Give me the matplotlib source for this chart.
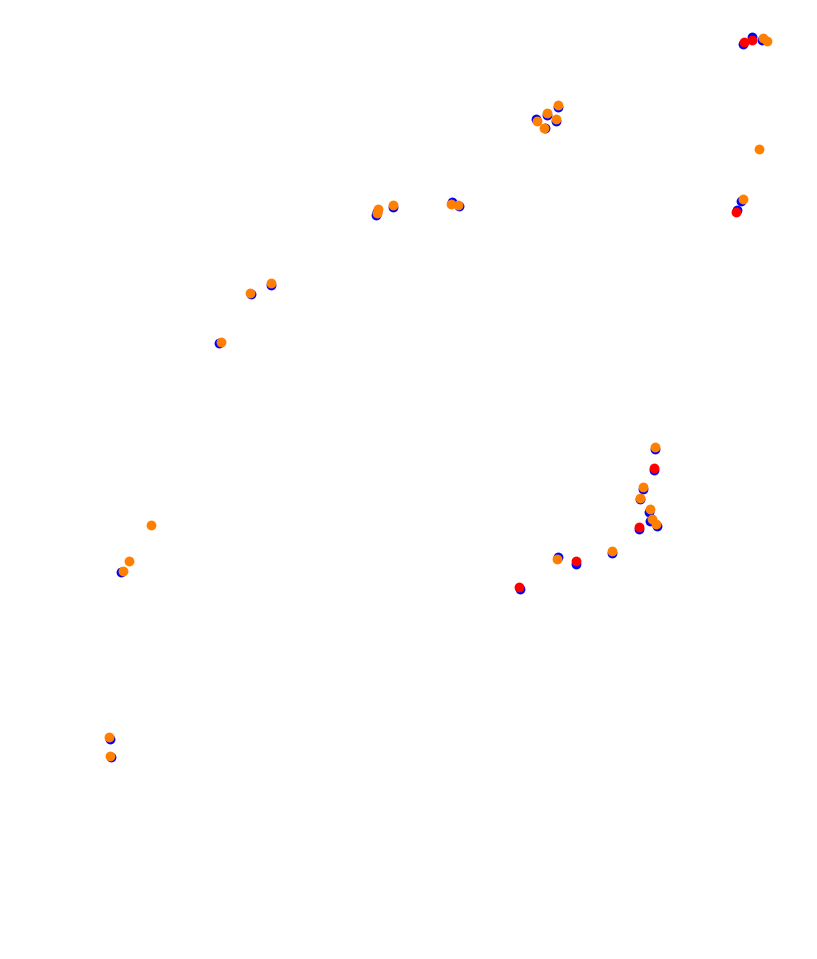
import matplotlib
matplotlib.use("Agg")
import matplotlib.pyplot as plt

# position samples for three laps (track map style, no axes)
blue_x = [743, 752, 762, 558, 547, 536, 556, 545, 377, 376, 393, 452, 459,
          741, 737, 655, 654, 643, 640, 649, 650, 657, 639, 520, 558, 576,
          612, 121, 110, 111, 271, 251, 219]
blue_y = [44, 37, 40, 107, 115, 119, 121, 128, 212, 215, 207, 202, 206,
          201, 210, 449, 470, 489, 499, 512, 521, 526, 529, 589, 557, 564,
          553, 572, 739, 757, 285, 294, 343]

red_x = [744, 752, 736, 654, 639, 519, 576]
red_y = [42, 40, 212, 468, 527, 587, 561]

orange_x = [763, 767, 558, 547, 537, 556, 544, 378, 377, 393, 451, 458,
            759, 743, 655, 643, 640, 650, 652, 656, 557, 612, 151, 129,
            123, 109, 110, 271, 250, 221]
orange_y = [38, 41, 105, 113, 121, 119, 128, 209, 213, 205, 204, 205,
            149, 199, 447, 487, 498, 509, 519, 524, 559, 551, 525, 561,
            571, 737, 756, 283, 293, 342]

fig = plt.figure(figsize=(8.17, 9.59), dpi=100)
ax = fig.add_axes([0, 0, 1, 1])
ax.scatter(blue_x, blue_y, s=50, color="#0000ff", linewidths=0)
ax.scatter(red_x, red_y, s=50, color="#ff0000", linewidths=0)
ax.scatter(orange_x, orange_y, s=50, color="#ff8000", linewidths=0)
ax.set_xlim(0, 817)
ax.set_ylim(959, 0)
ax.axis("off")

fig.savefig("out.png", dpi=100, facecolor="white")
